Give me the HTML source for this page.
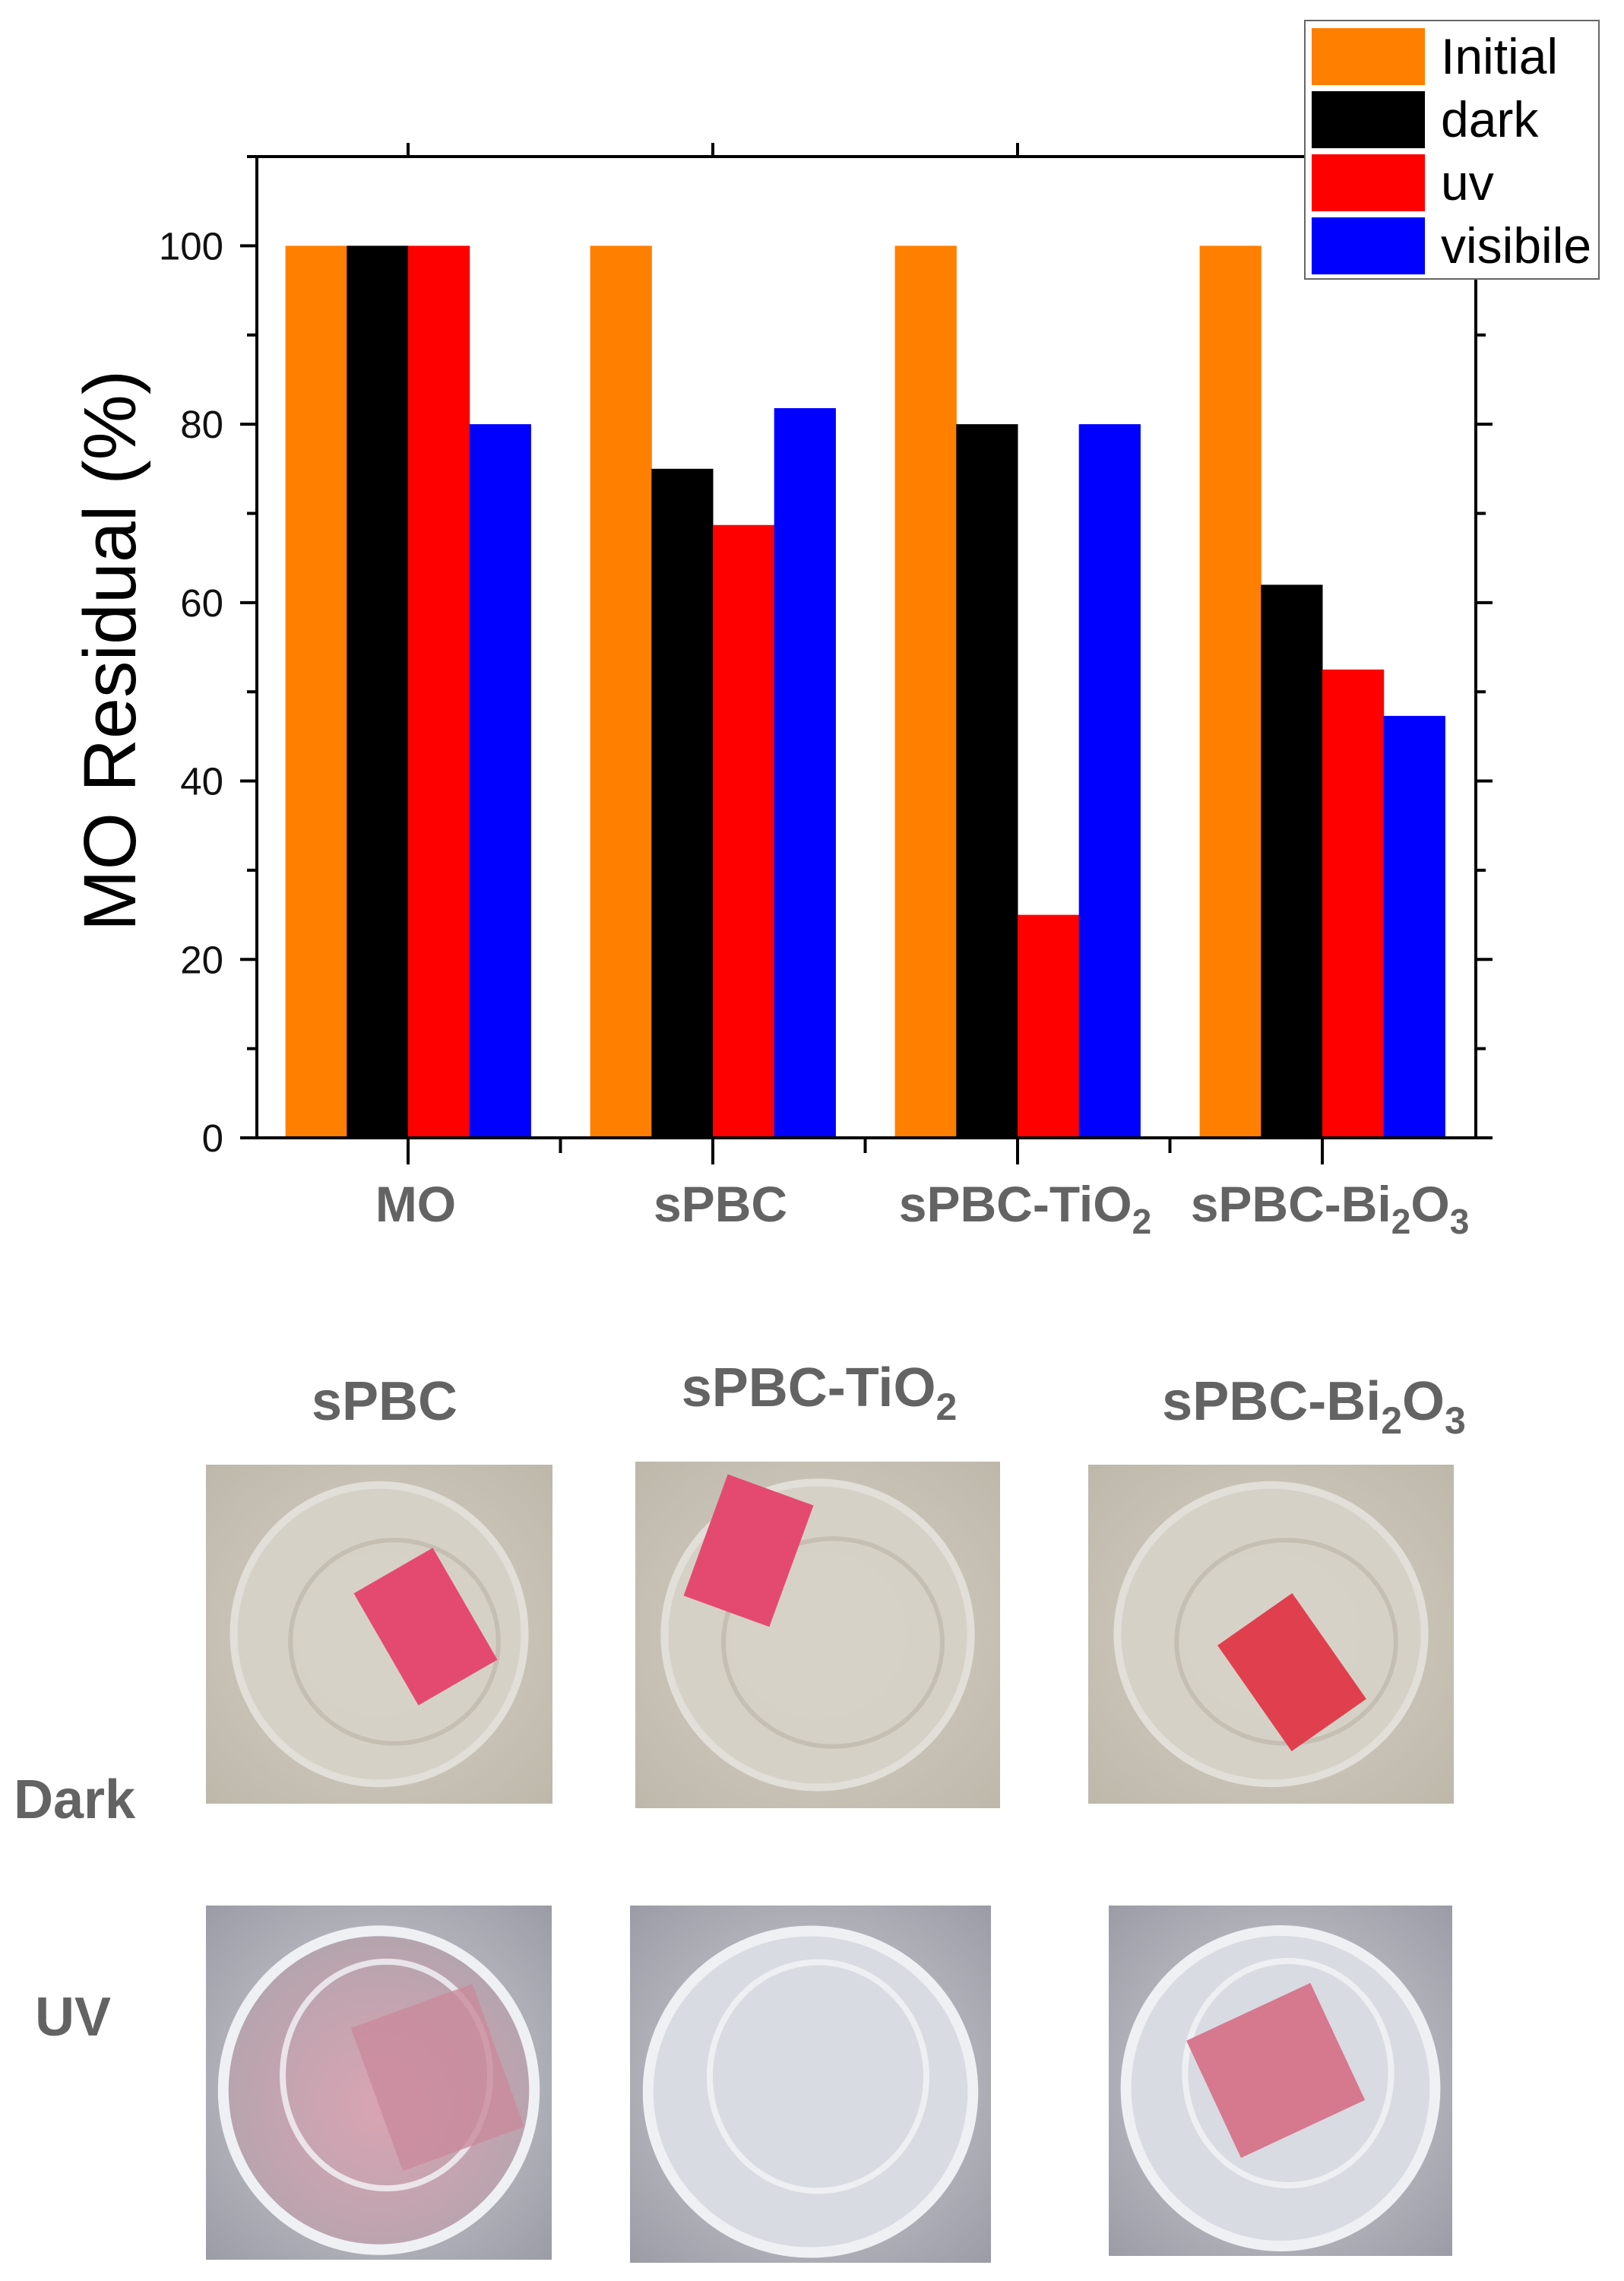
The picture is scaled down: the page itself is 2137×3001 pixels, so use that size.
<!DOCTYPE html>
<html><head><meta charset="utf-8"><style>
html,body{margin:0;padding:0;background:#fff}
svg{display:block}
text{font-family:"Liberation Sans",Arial,sans-serif}
.gl{font-weight:bold;fill:#636363}
</style></head><body>
<svg id="fig" width="2137" height="3001" viewBox="0 0 2137 3001" xmlns="http://www.w3.org/2000/svg">
<defs>
<radialGradient id="darkbg" cx="50%" cy="50%" r="70%"><stop offset="0" stop-color="#d6d1c6"/><stop offset="1" stop-color="#bdb8aa"/></radialGradient>
<radialGradient id="uvbg" cx="50%" cy="50%" r="70%"><stop offset="0" stop-color="#d2d2d8"/><stop offset="1" stop-color="#9c9ca6"/></radialGradient>
<radialGradient id="uvpink" cx="50%" cy="55%" r="60%"><stop offset="0" stop-color="#d9a4b4"/><stop offset="1" stop-color="#b0a4ac"/></radialGradient>
</defs>
<g id="chart"></g>
<g id="photos"></g>
</svg>
<script>
const categories = ["MO", "sPBC", "sPBC-TiO2", "sPBC-Bi2O3"];
const seriesNames = ["Initial", "dark", "uv", "visibile"];
const initialValues = [100, 100, 100, 100];
const darkValues = [100, 75, 80, 62];
const uvValues = [100, 68.7, 25, 52.5];
const visibleValues = [80, 81.8, 80, 47.3];
const yTicks = [0, 20, 40, 60, 80, 100];

const NS = "http://www.w3.org/2000/svg";
function mk(tag, attrs, parent, txt){
  const e = document.createElementNS(NS, tag);
  for (const k in attrs) e.setAttribute(k, attrs[k]);
  if (txt !== undefined) e.textContent = txt;
  parent.appendChild(e);
  return e;
}
const chart = document.getElementById('chart');
const L = 338, R = 1942, T = 206, B = 1497, yMax = 110;
const yScale = v => B - (v / yMax) * (B - T);
const catStep = 401, cat0 = 537, barW = 80.7;
const xCenter = i => cat0 + i * catStep;
const colors = ["#ff7f00", "#000000", "#ff0000", "#0000ff"];
const series = [initialValues, darkValues, uvValues, visibleValues];

series.forEach((vals, s) => {
  vals.forEach((v, i) => {
    const x = xCenter(i) - 2 * barW + s * barW;
    const r = mk('rect', {x: x, y: yScale(v), width: barW + 0.5, height: B - yScale(v), fill: colors[s]}, chart);
    
    
  });
});

const frame = mk('rect', {x: L, y: T, width: R - L, height: B - T, fill: 'none', stroke: '#000', 'stroke-width': 4}, chart);



for (let v = 0; v <= 110; v += 10) {
  const y = yScale(v);
  const major = v % 20 === 0;
  const len = major ? 22 : 13;
  mk('line', {x1: L - len, x2: L, y1: y, y2: y, stroke: '#000', 'stroke-width': 4}, chart);
  mk('line', {x1: R, x2: R + len, y1: y, y2: y, stroke: '#000', 'stroke-width': 4}, chart);
}
yTicks.forEach(v => {
  const t = mk('text', {x: 294, y: yScale(v) + 18, 'text-anchor': 'end', 'font-size': 51, fill: '#111'}, chart, String(v));
  
  
});
for (let i = 0; i <= 8; i++) {
  const x = cat0 - catStep / 2 + i * catStep / 2;
  const major = i % 2 === 1;
  const len = major ? 35 : 20;
  if (x > L + 2 && x < R - 2) {
    mk('line', {x1: x, x2: x, y1: B, y2: B + len, stroke: '#000', 'stroke-width': 4}, chart);
    if (major) mk('line', {x1: x, x2: x, y1: T - 18, y2: T, stroke: '#000', 'stroke-width': 4}, chart);
  }
}

const yt = mk('text', {x: 0, y: 0, transform: 'translate(178,856) rotate(-90)', 'text-anchor': 'middle', 'font-size': 97, fill: '#000'}, chart, 'MO Residual (%)');



const xl = [
  ['MO', null, null, null],
  ['sPBC', null, null, null],
  ['sPBC-TiO', '2', null, null],
  ['sPBC-Bi', '2', 'O', '3']
];
xl.forEach((p, i) => {
  const t = mk('text', {x: xCenter(i) + 10, y: 1607, 'text-anchor': 'middle', 'font-size': 66, class: 'gl'}, chart);
  
  
  mk('tspan', {}, t, p[0]);
  if (p[1]) mk('tspan', {dy: 16, 'font-size': 46}, t, p[1]);
  if (p[2]) mk('tspan', {dy: -16}, t, p[2]);
  if (p[3]) mk('tspan', {dy: 16, 'font-size': 46}, t, p[3]);
});

const lg = mk('g', {}, chart);


mk('rect', {x: 1717, y: 27, width: 387, height: 340, fill: '#fff', stroke: '#666', 'stroke-width': 2}, lg);
seriesNames.forEach((n, s) => {
  const y = 37 + s * 83;
  const sw = mk('rect', {x: 1726, y: y, width: 149, height: 75, fill: colors[s]}, lg);
  
  
  const t = mk('text', {x: 1896, y: y + 60, 'font-size': 66, fill: '#000'}, lg, n);
  
  
});

const ph = document.getElementById('photos');
const heads = [['sPBC', null, null, null, 506, 1868], ['sPBC-TiO', '2', null, null, 1078, 1850], ['sPBC-Bi', '2', 'O', '3', 1729, 1868]];
heads.forEach(h => {
  const t = mk('text', {x: h[4], y: h[5], 'text-anchor': 'middle', 'font-size': 72, class: 'gl'}, ph);
  
  
  mk('tspan', {}, t, h[0]);
  if (h[1]) mk('tspan', {dy: 18, 'font-size': 50}, t, h[1]);
  if (h[2]) mk('tspan', {dy: -18}, t, h[2]);
  if (h[3]) mk('tspan', {dy: 18, 'font-size': 50}, t, h[3]);
});
const dk = mk('text', {x: 18, y: 2392, 'font-size': 72, class: 'gl'}, ph, 'Dark');


const uvl = mk('text', {x: 46, y: 2678, 'font-size': 72, class: 'gl'}, ph, 'UV');



const darkP = [[271, 1927, 456, 446, 560, 2140, -30], [836, 1923, 480, 456, 985, 2040, 20], [1432, 1927, 481, 446, 1700, 2200, -35]];
darkP.forEach((p, i) => {
  const g = mk('g', {}, ph);
  
  
  mk('rect', {x: p[0], y: p[1], width: p[2], height: p[3], fill: 'url(#darkbg)'}, g);
  const cx = p[0] + p[2] / 2, cy = p[1] + p[3] / 2;
  mk('ellipse', {cx: cx, cy: cy, rx: p[2] * 0.42, ry: p[3] * 0.44, fill: '#d8d3c9', stroke: '#e6e2dc', 'stroke-width': 10, opacity: 0.9}, g);
  mk('ellipse', {cx: cx + 20, cy: cy + 10, rx: p[2] * 0.3, ry: p[3] * 0.3, fill: 'none', stroke: '#c5beb2', 'stroke-width': 6}, g);
  mk('rect', {x: p[4] - 60, y: p[5] - 85, width: 120, height: 170, fill: i === 2 ? '#e0404e' : '#e44a70', transform: 'rotate(' + p[6] + ' ' + p[4] + ' ' + p[5] + ')'}, g);
});
const uvP = [[271, 2507, 455, 466], [829, 2507, 475, 470], [1459, 2507, 452, 461]];
uvP.forEach((p, i) => {
  const g = mk('g', {}, ph);
  
  
  mk('rect', {x: p[0], y: p[1], width: p[2], height: p[3], fill: 'url(#uvbg)'}, g);
  const cx = p[0] + p[2] / 2, cy = p[1] + p[3] / 2;
  mk('ellipse', {cx: cx, cy: cy + 10, rx: p[2] * 0.45, ry: p[3] * 0.45, fill: i === 0 ? 'url(#uvpink)' : '#d8dbe1', stroke: '#eef0f4', 'stroke-width': 14}, g);
  mk('ellipse', {cx: cx + 10, cy: cy - 10, rx: p[2] * 0.3, ry: p[3] * 0.32, fill: 'none', stroke: '#f4f4f8', 'stroke-width': 8, opacity: 0.8}, g);
  if (i === 2) mk('rect', {x: cx - 90, y: cy - 100, width: 180, height: 170, fill: '#d6788e', transform: 'rotate(-25 ' + cx + ' ' + cy + ')'}, g);
  if (i === 0) mk('rect', {x: cx - 10, y: cy - 80, width: 170, height: 200, fill: '#c98a9c', opacity: 0.8, transform: 'rotate(-20 ' + cx + ' ' + cy + ')'}, g);
});
</script>
</body></html>
